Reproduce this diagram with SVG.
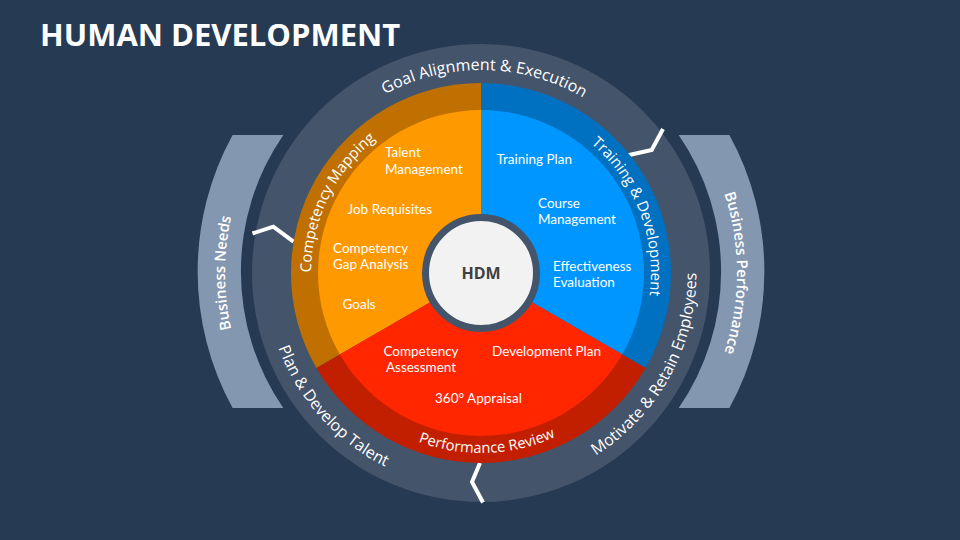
<svg xmlns="http://www.w3.org/2000/svg" width="960" height="540" viewBox="0 0 960 540">
  <style>
    .ring-t { font-family: "Open Sans", "Liberation Sans", sans-serif; font-size: 16px; fill: #FFFFFF; }
    .band-t { font-family: "Open Sans", "Liberation Sans", sans-serif; font-size: 15px; fill: #FFFFFF; }
    .side-t { font-family: "Open Sans", "Liberation Sans", sans-serif; font-size: 15px; font-weight: 600; fill: #FFFFFF; }
    .in-t { font-family: Lato, "Liberation Sans", sans-serif; font-size: 13.5px; fill: #FFFFFF; }
    .zig { fill: none; stroke: #FFFFFF; stroke-width: 4; stroke-linejoin: miter; }
  </style>
  <defs>
    <path id="p-goal" d="M327.8,139.8 A203,203 0 0 1 638.8,145.3"/>
    <path id="p-comp" d="M316.05,314.1 A170,170 0 0 1 411.9,117.7"/>
    <path id="p-train" d="M550.1,117.7 A170,170 0 0 1 636.3,342.1"/>
    <path id="p-perf" d="M370.2,414.8 A180,180 0 0 0 601.4,406.8"/>
    <path id="p-plan" d="M265.13,280.54 A216,216 0 0 0 450.93,486.9"/>
    <path id="p-moti" d="M548.5,478 A216,216 0 0 0 690,221"/>
    <path id="p-bneed" d="M259.3,401 A256,256 0 0 1 259.3,145"/>
    <path id="p-bperf" d="M690.7,126.2 A256,256 0 0 1 690.7,419.8"/>
  </defs>

  <rect width="960" height="540" fill="#263A53"/>

  <text x="40" y="46" font-family="'Open Sans', 'Liberation Sans', sans-serif" font-size="31" font-weight="700" fill="#FFFFFF">HUMAN DEVELOPMENT</text>

  <g id="business-needs">
    <path d="M232.6,135 A284,284 0 0 0 232.6,408 L283.3,408 A241,241 0 0 1 283.3,135 Z" fill="#8497B0"/>
    <text class="side-t"><textPath href="#p-bneed" startOffset="50%" text-anchor="middle">Business Needs</textPath></text>
  </g>

  <g id="business-performance">
    <path d="M729.4,135 A284,284 0 0 1 729.4,408 L678.7,408 A241,241 0 0 0 678.7,135 Z" fill="#8497B0"/>
    <text class="side-t"><textPath href="#p-bperf" startOffset="50%" text-anchor="middle">Business Performance</textPath></text>
  </g>

  <g id="outer-ring">
    <circle cx="481" cy="273" r="229" fill="#44546A"/>
    <text class="ring-t"><textPath href="#p-goal" startOffset="50%" text-anchor="middle">Goal  Alignment &amp; Execution</textPath></text>
    <text class="ring-t"><textPath href="#p-plan" startOffset="50%" text-anchor="middle">Plan &amp; Develop Talent</textPath></text>
    <text class="ring-t"><textPath href="#p-moti" startOffset="50%" text-anchor="middle">Motivate &amp; Retain Employees</textPath></text>
  </g>

  <g id="connectors">
    <polyline class="zig" points="252.5,233.5 273.3,226.7 293.5,241.7"/>
    <polyline class="zig" points="663,129 651.7,150 627,155.5"/>
    <polyline class="zig" points="480,463 472,482 483,502.5"/>
  </g>

  <g id="competency-mapping">
    <path d="M481,273 L481,83 A190,190 0 0 0 316.45,368 Z" fill="#BF7000"/>
    <path d="M481,273 L481,110 A163,163 0 0 0 339.84,354.5 Z" fill="#FF9900"/>
    <text class="band-t"><textPath href="#p-comp" startOffset="50%" text-anchor="middle">Competency Mapping</textPath></text>
    <text class="in-t" x="385" y="157">Talent</text>
    <text class="in-t" x="385" y="173.5">Management</text>
    <text class="in-t" x="347.5" y="213.5">Job Requisites</text>
    <text class="in-t" x="333" y="252.5">Competency</text>
    <text class="in-t" x="333" y="269">Gap Analysis</text>
    <text class="in-t" x="342.5" y="309">Goals</text>
  </g>

  <g id="training-development">
    <path d="M481,273 L481,83 A190,190 0 0 1 645.55,368 Z" fill="#0070C0"/>
    <path d="M481,273 L481,110 A163,163 0 0 1 622.16,354.5 Z" fill="#0096FF"/>
    <text class="band-t"><textPath href="#p-train" startOffset="50%" text-anchor="middle">Training &amp; Development</textPath></text>
    <text class="in-t" x="496.5" y="164">Training Plan</text>
    <text class="in-t" x="538" y="207.5">Course</text>
    <text class="in-t" x="538" y="224">Management</text>
    <text class="in-t" x="553" y="270.5">Effectiveness</text>
    <text class="in-t" x="553" y="287">Evaluation</text>
  </g>

  <g id="performance-review">
    <path d="M481,273 L316.45,368 A190,190 0 0 0 645.55,368 Z" fill="#C11F00"/>
    <path d="M481,273 L339.84,354.5 A163,163 0 0 0 622.16,354.5 Z" fill="#FF2600"/>
    <text class="band-t" style="font-size:14.7px"><textPath href="#p-perf" startOffset="50%" text-anchor="middle">Performance Review</textPath></text>
    <text class="in-t" x="421" y="355.5" text-anchor="middle">Competency</text>
    <text class="in-t" x="421" y="371.5" text-anchor="middle">Assessment</text>
    <text class="in-t" x="492" y="355.5">Development Plan</text>
    <text class="in-t" x="435" y="403">360° Appraisal</text>
  </g>

  <g id="hdm">
    <circle cx="481" cy="273" r="55.5" fill="#F2F2F2" stroke="#44546A" stroke-width="7"/>
    <text x="481" y="279" text-anchor="middle" font-family="'Open Sans', 'Liberation Sans', sans-serif" font-size="16" font-weight="700" fill="#404040">HDM</text>
  </g>
</svg>
